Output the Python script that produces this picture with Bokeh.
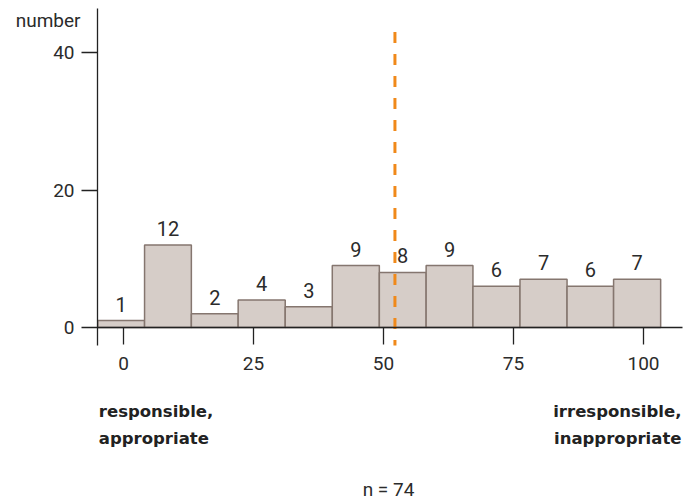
from bokeh.plotting import figure
from bokeh.models import ColumnDataSource, Range1d, FixedTicker, LabelSet, Label
from bokeh.core.properties import value
from bokeh.embed import file_html
from bokeh.resources import INLINE

# ---- data ----
bin_edges = [-4.95, 4.05, 13.05, 22.05, 31.1, 40.15, 49.2, 58.2, 67.2, 76.25, 85.3, 94.25, 103.3]
counts = [1, 12, 2, 4, 3, 9, 8, 9, 6, 7, 6, 7]
mean_value = 52.2
x_ticks = [0, 25, 50, 75, 100]
y_ticks = [0, 20, 40]
n_total = 74
left_label = ["responsible,", "appropriate"]
right_label = ["irresponsible,", "inappropriate"]

lefts = bin_edges[:-1]
rights = bin_edges[1:]
centers = [(a + b) / 2 for a, b in zip(lefts, rights)]
src = ColumnDataSource(dict(left=lefts, right=rights, top=counts,
                            bottom=[0] * len(counts), xc=centers,
                            lab=[str(c) for c in counts]))

FONT = "Roboto"
TXT = "#2b2b2b"
AX = "#222222"

p = figure(width=686, height=502, output_backend="svg", toolbar_location=None,
           x_range=Range1d(-23.654, 108.27), y_range=Range1d(-25.455, 47.564),
           min_border_left=0, min_border_right=0, min_border_top=0,
           min_border_bottom=0)
p.outline_line_color = None
p.grid.visible = False
p.background_fill_color = "white"
p.border_fill_color = "white"

p.quad(left="left", right="right", top="top", bottom="bottom", source=src,
       fill_color="#D6CDC8", line_color="#85766F", line_width=1.5)

p.segment(x0=[mean_value], x1=[mean_value], y0=[43], y1=[-2.62],
          line_color="#F0891A", line_width=3, line_dash="11 11")

labels = LabelSet(x="xc", y="top", text="lab", source=src, text_align="center",
                  text_baseline="alphabetic", y_offset=9, text_font=value(FONT),
                  text_font_size=value("20px"), text_color=TXT)
p.add_layout(labels)

# axes
xa = p.xaxis[0]
xa.fixed_location = 0
xa.bounds = (-5, 107.5)
xa.ticker = FixedTicker(ticks=x_ticks)
xa.minor_tick_line_color = None
xa.major_tick_in = 0
xa.major_tick_out = 17
xa.axis_line_color = AX
xa.axis_line_width = 1.3
xa.major_tick_line_color = AX
xa.major_tick_line_width = 1.3
xa.major_label_text_font = FONT
xa.major_label_text_font_size = "19px"
xa.major_label_text_color = TXT
xa.major_label_standoff = 13

ya = p.yaxis[0]
ya.fixed_location = -5
ya.bounds = (-2.62, 46.4)
ya.ticker = FixedTicker(ticks=y_ticks)
ya.minor_tick_line_color = None
ya.major_tick_in = 0
ya.major_tick_out = 16
ya.axis_line_color = AX
ya.axis_line_width = 1.3
ya.major_tick_line_color = AX
ya.major_tick_line_width = 1.3
ya.major_label_text_font = FONT
ya.major_label_text_font_size = "19px"
ya.major_label_text_color = TXT
ya.major_label_standoff = 7

p.add_layout(Label(x=-8.27, y=44.7, text="number", text_align="right",
                   text_baseline="alphabetic", text_font=FONT,
                   text_font_size="19px", text_color=TXT))

BOLD = dict(text_baseline="alphabetic", text_font="DejaVu Sans",
            text_font_style="bold", text_font_size="16.5px", text_color="#222222")
p.add_layout(Label(x=-4.75, y=-12.22, text=left_label[0], text_align="left", **BOLD))
p.add_layout(Label(x=-4.75, y=-16.15, text=left_label[1], text_align="left", **BOLD))
p.add_layout(Label(x=107.3, y=-12.22, text=right_label[0], text_align="right", **BOLD))
p.add_layout(Label(x=107.3, y=-16.15, text=right_label[1], text_align="right", **BOLD))

p.add_layout(Label(x=50.96, y=-23.5, text=f"n = {n_total}", text_align="center",
                   text_baseline="alphabetic", text_font=FONT,
                   text_font_size="19px", text_color=TXT))

open("out.html", "w").write(file_html(p, INLINE))
